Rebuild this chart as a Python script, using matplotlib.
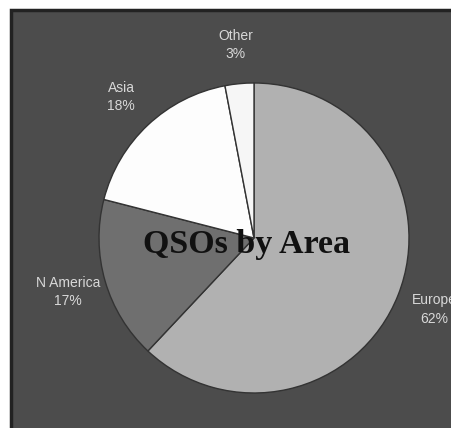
import matplotlib
matplotlib.use("Agg")
import matplotlib.pyplot as plt
from matplotlib.patches import Rectangle

# ---- data ------------------------------------------------------------
areas = ["Europe", "N America", "Asia", "Other"]
shares = [62, 17, 18, 3]
colors = ["#b1b1b1", "#6f6f6f", "#fdfdfd", "#f6f6f6"]
title = "QSOs by Area"

W, H = 452, 428

fig = plt.figure(figsize=(W / 100, H / 100), dpi=100, facecolor="white")
ax = fig.add_axes([0, 0, 1, 1])

# dark panel with a darker frame on top/left (right/bottom run off the edge)
ax.add_patch(Rectangle((11, -20), W + 40, H - 10 + 20, facecolor="#4c4c4c",
                       edgecolor="#222222", lw=2.5, zorder=0))

labels = [f"{a}\n{s}%" for a, s in zip(areas, shares)]
wedges, texts = ax.pie(shares, labels=labels, colors=colors, startangle=90,
                       counterclock=False, center=(254, 190), radius=155,
                       labeldistance=1.25, frame=True,
                       wedgeprops=dict(edgecolor="#333333", linewidth=1.0),
                       textprops=dict(color="#d8d8d8", fontsize=10,
                                      family="Liberation Sans",
                                      linespacing=1.4))
for t in texts:
    t.set_ha("center"); t.set_va("center")
ax.set_xlim(0, W); ax.set_ylim(0, H)
ax.set_aspect("equal"); ax.axis("off")

ax.text(247, 184, title, ha="center", va="center", fontsize=24.5,
        fontweight="bold", family="Liberation Serif", color="#111111")

fig.savefig("out.png", dpi=100, facecolor="white")
